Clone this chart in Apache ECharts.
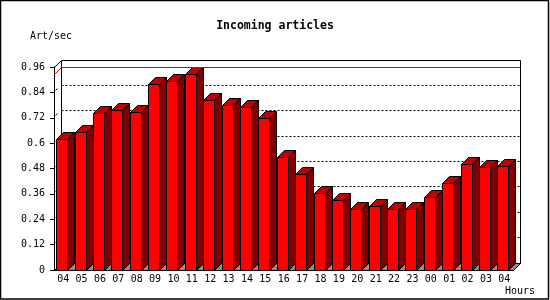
<!DOCTYPE html>
<html><head><meta charset="utf-8">
<script src="https://cdn.jsdelivr.net/npm/echarts@6/dist/echarts.min.js"></script>
<style>html,body{margin:0;padding:0;background:#fff}#c{width:550px;height:300px}</style>
</head><body><div id="c"></div>
<script>
const hours = ['04','05','06','07','08','09','10','11','12','13','14','15','16','17','18','19','20','21','22','23','00','01','02','03','04'];
const artPerSec = [0.617,0.650,0.740,0.754,0.745,0.877,0.891,0.924,0.802,0.778,0.769,0.717,0.532,0.452,0.362,0.329,0.287,0.301,0.287,0.287,0.343,0.410,0.499,0.485,0.490];
const yTicks = [0,0.12,0.24,0.36,0.48,0.6,0.72,0.84,0.96];
const titleText = 'Incoming articles';
const yUnit = 'Art/sec';
const xUnit = 'Hours';

const FONT = 'DejaVu Sans Mono';
const D = 7; // 3D depth in px
const px = v => Math.floor(v) + 0.5;

function seg(x1, y1, x2, y2, stroke, dash) {
  const style = {stroke: stroke, lineWidth: 1, fill: 'none'};
  if (dash) style.lineDash = dash;
  return {type: 'line', shape: {x1: x1, y1: y1, x2: x2, y2: y2}, style: style};
}

function bounds(api) {
  const n = hours.length;
  const bw = api.size([1, 0])[0];
  return {
    xL: px(api.coord([0, 0])[0] - bw / 2),
    xR: px(api.coord([n - 1, 0])[0] + bw / 2),
    yB: px(api.coord([0, 0])[1]),
    yT: px(api.coord([0, yTicks[yTicks.length - 1]])[1])
  };
}

function frameItem(params, api) {
  const {xL, xR, yB, yT} = bounds(api);
  const ch = [];
  ch.push({type: 'polygon', shape: {points: [[xL, yB], [xR, yB], [xR + D, yB - D], [xL + D, yB - D]]},
    style: {fill: '#8c8c8c', stroke: '#000', lineWidth: 1}});
  yTicks.slice(1, -1).forEach(v => {
    const y = px(api.coord([0, v])[1]);
    ch.push(seg(xL + D, y - D, xR + D, y - D, '#000', [2, 2]));
    ch.push(seg(xL + 1, y - 2, xL + 3, y - 4, '#000'));
  });
  ch.push(seg(xL + D, yB - D, xL + D, yT - D, '#000'));
  ch.push(seg(xL + D, yT - D, xR + D, yT - D, '#000'));
  ch.push(seg(xR + D, yT - D, xR + D, yB - D, '#000'));
  ch.push(seg(xL, yT, xL + D, yT - D, '#000'));
  ch.push(seg(xR, yB, xR + D, yB - D, '#000'));
  return {type: 'group', children: ch};
}

function maxItem(params, api) {
  const {xL, xR} = bounds(api);
  const ym = px(api.coord([0, api.value(1)])[1]);
  return {type: 'group', children: [
    seg(xL, ym, xL + D, ym - D, '#e00000'),
    {type: 'rect', shape: {x: xL + D, y: ym - D - 0.5, width: xR - xL, height: 1},
      style: {fill: '#e00000', stroke: null, lineWidth: 0}}
  ]};
}

function barItem(params, api) {
  const i = api.value(0), v = api.value(1);
  const c = api.coord([i, v]);
  const b = api.coord([i, 0]);
  const x0 = px(c[0] - 6.5);
  const x1 = x0 + 11;
  const yt = px(c[1]);
  const yb = px(b[1]);
  const st = {stroke: '#000', lineWidth: 1};
  return {type: 'group', children: [
    {type: 'polygon', shape: {points: [[x1, yt], [x1 + D, yt - D], [x1 + D, yb - D], [x1, yb]]},
      style: Object.assign({fill: '#800000'}, st)},
    {type: 'polygon', shape: {points: [[x0, yt], [x1, yt], [x1 + D, yt - D], [x0 + D, yt - D]]},
      style: Object.assign({fill: '#c00000'}, st)},
    {type: 'polygon', shape: {points: [[x0, yb], [x0, yt], [x1, yt], [x1, yb]]},
      style: Object.assign({fill: '#ff0000'}, st)}
  ]};
}

const maxVal = Math.max(...artPerSec);

const chart = echarts.init(document.getElementById('c'), null, {renderer: 'canvas'});
chart.setOption({
  animation: false,
  backgroundColor: '#fff',
  grid: {left: 54, right: 36.5, top: 67, bottom: 30},
  xAxis: {
    type: 'category', data: hours, boundaryGap: true,
    axisLine: {lineStyle: {color: '#000', width: 1}},
    axisTick: {length: 5, lineStyle: {color: '#000'}},
    axisLabel: {interval: 0, margin: 4, fontFamily: FONT, fontSize: 10, color: '#000'},
    splitLine: {show: false}
  },
  yAxis: {
    type: 'value', min: yTicks[0], max: yTicks[yTicks.length - 1], interval: 0.12,
    axisLine: {show: true, lineStyle: {color: '#000', width: 1}},
    axisTick: {show: true, length: 4, lineStyle: {color: '#000'}},
    axisLabel: {margin: 9, fontFamily: FONT, fontSize: 10, color: '#000',
      formatter: v => String(+v.toFixed(2))},
    splitLine: {show: false}
  },
  graphic: [
    {type: 'rect', shape: {x: 0.5, y: 0.5, width: 548, height: 298.5}, style: {fill: null, stroke: '#000', lineWidth: 1.5}, z: 100},
    {type: 'text', x: 275, y: 26.5, style: {text: titleText, font: 'bold 11.5px "DejaVu Sans Mono"', fill: '#000', textAlign: 'center', textVerticalAlign: 'middle'}},
    {type: 'text', x: 30, y: 36.5, style: {text: yUnit, font: '10px "DejaVu Sans Mono"', fill: '#000', textAlign: 'left', textVerticalAlign: 'middle'}},
    {type: 'text', x: 505, y: 291.5, style: {text: xUnit, font: '10px "DejaVu Sans Mono"', fill: '#000', textAlign: 'left', textVerticalAlign: 'middle'}}
  ],
  series: [
    {type: 'custom', renderItem: frameItem, data: [[0, 0]], z: 1, silent: true},
    {type: 'custom', renderItem: maxItem, data: [[0, maxVal]], encode: {x: 0, y: 1}, z: 5, silent: true},
    {type: 'custom', renderItem: barItem, data: artPerSec.map((v, i) => [i, v]), encode: {x: 0, y: 1}, z: 2, silent: true}
  ]
});
</script></body></html>
